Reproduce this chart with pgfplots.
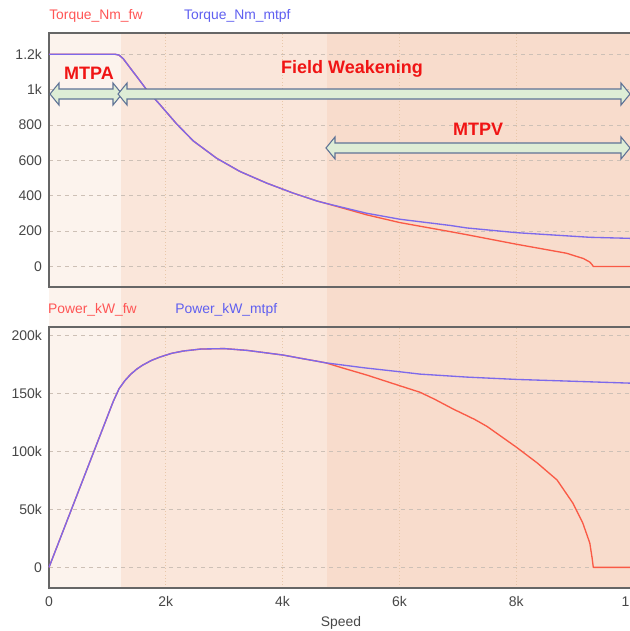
\documentclass[border=0pt]{standalone}
\usepackage{fontspec}
\setmainfont{Liberation Sans}
\usepackage{pgfplots}
\pgfplotsset{compat=1.18}

\definecolor{regA}{RGB}{252,243,237}
\definecolor{regB}{RGB}{250,230,218}
\definecolor{regC}{RGB}{248,220,204}
\definecolor{cRed}{RGB}{250,90,70}
\definecolor{cBlue}{RGB}{125,105,235}
\definecolor{lRed}{RGB}{255,85,85}
\definecolor{lBlue}{RGB}{95,95,240}
\definecolor{annRed}{RGB}{240,20,20}
\definecolor{arrFill}{RGB}{222,237,214}
\definecolor{arrEdge}{RGB}{95,115,150}
\definecolor{gridY}{RGB}{205,192,182}
\definecolor{gridX}{RGB}{232,200,170}

\newcommand{\dblarrow}[3]{%
  \draw[draw=arrEdge, fill=arrFill, line width=0.8pt, line join=miter]
   (axis cs:#1,#3)
   -- ([shift={(6.75pt,8.25pt)}]axis cs:#1,#3)
   -- ([shift={(6.75pt,3.75pt)}]axis cs:#1,#3)
   -- ([shift={(-6.75pt,3.75pt)}]axis cs:#2,#3)
   -- ([shift={(-6.75pt,8.25pt)}]axis cs:#2,#3)
   -- (axis cs:#2,#3)
   -- ([shift={(-6.75pt,-8.25pt)}]axis cs:#2,#3)
   -- ([shift={(-6.75pt,-3.75pt)}]axis cs:#2,#3)
   -- ([shift={(6.75pt,-3.75pt)}]axis cs:#1,#3)
   -- ([shift={(6.75pt,-8.25pt)}]axis cs:#1,#3)
   -- cycle;}

\pgfplotsset{
  set layers,
  mystyle/.style={
    scale only axis, width=438pt, xmin=0, xmax=10000, clip=false,
    axis line style={black!60, line width=0.9pt},
    major tick length=0pt,
    xmajorgrids, ymajorgrids,
    x grid style={gridX, dotted, line width=0.7pt},
    y grid style={gridY, dash pattern=on 3pt off 3pt, line width=0.5pt},
    tick label style={font=\fontsize{10.5}{12}\selectfont, text=black!72},
    yticklabel style={xshift=-1.75pt},
    xticklabel style={yshift=-3pt},
    xtick={0,2000,4000,6000,8000,10000},
    scaled ticks=false,
  }
}

\begin{document}
\begin{tikzpicture}

% ---------- Torque ----------
\begin{axis}[mystyle,
  at={(36.75pt,-24.75pt)}, anchor=north west,
  height=190.5pt, ymin=-116, ymax=1320,
  ytick={0,200,400,600,800,1000,1200},
  yticklabels={0,200,400,600,800,1k,1.2k},
  xticklabels={}]
\begin{pgfonlayer}{axis background}
  \fill[regA] (axis cs:0,1320) rectangle (axis cs:1240,-1816);
  \fill[regB] (axis cs:1240,1320) rectangle (axis cs:4760,-1816);
  \fill[regC] (axis cs:4760,1320) rectangle (axis cs:10000,-1816);
\end{pgfonlayer}

\addplot[cRed, line width=1pt, line join=round] coordinates {
 (0,1200) (1130,1200) (1200,1195) (1270,1175) (1350,1140) (1430,1105)
 (1500,1075) (1670,1000) (1900,915) (2180,808) (2470,710) (2870,612)
 (3270,537) (3730,471) (4180,415) (4580,371) (4740,357) (5150,319)
 (5440,292) (6010,248) (6870,197) (7150,180) (8000,126) (8860,75)
 (9150,45) (9260,25) (9300,10) (9320,0) (10000,0)};
\addplot[cBlue, line width=1pt, line join=round] coordinates {
 (0,1200) (1130,1200) (1200,1195) (1270,1175) (1350,1140) (1430,1105)
 (1500,1075) (1670,1000) (1900,915) (2180,808) (2470,710) (2870,612)
 (3270,537) (3730,471) (4180,415) (4580,371) (4740,357) (5440,301)
 (6010,267) (6870,232) (7150,218) (8010,191) (9260,165) (9950,159)
 (10000,158)};

\node[anchor=west, inner sep=0pt, text=lRed, font=\fontsize{10.4}{12}\selectfont]
  at (rel axis cs:0,1) [yshift=12.75pt] {Torque\_Nm\_fw};
\node[anchor=west, inner sep=0pt, text=lBlue, font=\fontsize{10.4}{12}\selectfont]
  at (rel axis cs:0.231,1) [yshift=12.75pt] {Torque\_Nm\_mtpf};

\dblarrow{17}{1250}{975}
\dblarrow{1182}{9949}{975}
\dblarrow{4743}{9949}{670}

\node[text=annRed, font=\bfseries\fontsize{13.5}{15}\selectfont] at (axis cs:685,1094) {MTPA};
\node[text=annRed, font=\bfseries\fontsize{13.5}{15}\selectfont] at (axis cs:5188,1116) {Field Weakening};
\node[text=annRed, font=\bfseries\fontsize{13.5}{15}\selectfont] at (axis cs:7346,777) {MTPV};
\end{axis}

% ---------- Power ----------
\begin{axis}[mystyle,
  at={(36.75pt,-245.25pt)}, anchor=north west,
  height=195.75pt, ymin=-17800, ymax=207200,
  ytick={0,50000,100000,150000,200000},
  yticklabels={0,50k,100k,150k,200k},
  xticklabels={0,2k,4k,6k,8k,10k},
  xlabel={Speed},
  xlabel style={at={(rel axis cs:0.5,0)}, anchor=center, yshift=-26pt,
    font=\fontsize{10.4}{12}\selectfont, text=black!72}]
\addplot[cRed, line width=1pt, line join=round] coordinates {
 (0,0) (400,52000) (800,104000) (1000,130000) (1100,143000) (1200,154000)
 (1300,161000) (1400,166500) (1500,170800) (1600,174200) (1750,178300)
 (1900,181300) (2100,184500) (2300,186500) (2600,188200) (3000,188600)
 (3400,187000) (4010,183000) (4300,180300) (4590,177700) (4740,176300)
 (5000,172300) (5440,165800) (6010,156500) (6350,151000) (6600,145000)
 (6920,136500) (7290,127500) (7500,121500) (8000,103700) (8360,90000)
 (8700,75300) (8970,55400) (9140,38200) (9260,21000) (9300,8000)
 (9320,0) (10000,0)};
\addplot[cBlue, line width=1pt, line join=round] coordinates {
 (0,0) (400,52000) (800,104000) (1000,130000) (1100,143000) (1200,154000)
 (1300,161000) (1400,166500) (1500,170800) (1600,174200) (1750,178300)
 (1900,181300) (2100,184500) (2300,186500) (2600,188200) (3000,188600)
 (3400,187000) (4010,183000) (4300,180300) (4590,177700) (4740,176300)
 (5400,172000) (6010,168600) (6350,166600) (7160,164000) (8010,162000)
 (8870,160600) (9950,158800) (10000,158700)};

\node[anchor=west, inner sep=0pt, text=lRed, font=\fontsize{10.4}{12}\selectfont]
  at (rel axis cs:-0.002,1) [yshift=12.75pt] {Power\_kW\_fw};
\node[anchor=west, inner sep=0pt, text=lBlue, font=\fontsize{10.4}{12}\selectfont]
  at (rel axis cs:0.216,1) [yshift=12.75pt] {Power\_kW\_mtpf};
\end{axis}

\pgfresetboundingbox
\path[use as bounding box] (0,0) rectangle (472.5pt,-473.25pt);
\end{tikzpicture}
\end{document}
